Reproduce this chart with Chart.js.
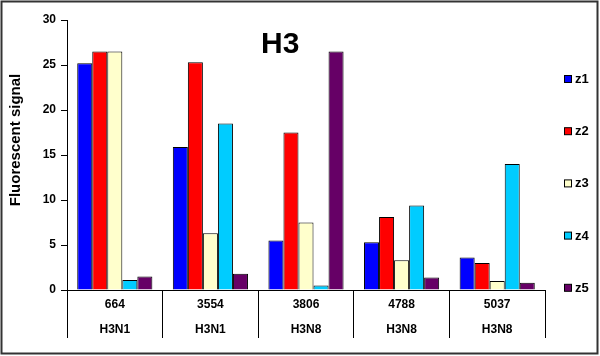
<!DOCTYPE html>
<html>
<head>
<meta charset="utf-8">
<script src="https://cdn.jsdelivr.net/npm/chart.js@4.4.1/dist/chart.umd.min.js"></script>
<style>
  html, body { margin: 0; padding: 0; background: #ffffff; }
  #wrap { width: 600px; height: 356px; position: relative; }
</style>
</head>
<body>
<div id="wrap"><canvas id="c" width="600" height="356"></canvas></div>
<script>
const strains = ['664', '3554', '3806', '4788', '5037'];
const subtypes = ['H3N1', 'H3N1', 'H3N8', 'H3N8', 'H3N8'];
const seriesNames = ['z1', 'z2', 'z3', 'z4', 'z5'];
const z1 = [25.2, 15.9, 5.5, 5.3, 3.6];
const z2 = [26.5, 25.3, 17.5, 8.1, 3.0];
const z3 = [26.5, 6.3, 7.5, 3.3, 1.0];
const z4 = [1.1, 18.5, 0.5, 9.4, 14.0];
const z5 = [1.5, 1.8, 26.5, 1.4, 0.8];
const yTicks = [0, 5, 10, 15, 20, 25, 30];
const chartTitle = 'H3';
const yTitle = 'Fluorescent signal';

const colors = ['#0000FF', '#FF0000', '#FFFFCC', '#00CCFF', '#660066'];
const FONT = '"Liberation Sans", Arial, sans-serif';
const values = [z1, z2, z3, z4, z5];

const datasets = seriesNames.map((n, i) => ({
  label: n,
  data: values[i],
  backgroundColor: colors[i],
  borderColor: '#000000',
  borderWidth: 1,
  categoryPercentage: 0.786,
  barPercentage: 1.0
}));

const decor = {
  id: 'decor',
  afterDraw(chart) {
    const ctx = chart.ctx;
    ctx.save();
    // outer frame
    ctx.strokeStyle = '#333333';
    ctx.lineWidth = 2;
    ctx.strokeRect(1.5, 1.5, 596, 352);
    // title
    ctx.fillStyle = '#000000';
    ctx.font = 'bold 30px ' + FONT;
    ctx.textAlign = 'left';
    ctx.textBaseline = 'alphabetic';
    ctx.fillText(chartTitle, 261, 53);
    // y title
    ctx.save();
    ctx.translate(16, 140);
    ctx.rotate(-Math.PI / 2);
    ctx.font = 'bold 15px ' + FONT;
    ctx.textAlign = 'center';
    ctx.textBaseline = 'middle';
    ctx.fillText(yTitle, 0, 0);
    ctx.restore();
    // legend
    ctx.font = 'bold 13px ' + FONT;
    ctx.textAlign = 'left';
    ctx.textBaseline = 'middle';
    chart.data.datasets.forEach((ds, i) => {
      const cy = 79 + i * 52.2;
      ctx.fillStyle = ds.backgroundColor;
      ctx.fillRect(564.5, cy - 3.5, 7, 7);
      ctx.strokeStyle = '#000000';
      ctx.lineWidth = 1;
      ctx.strokeRect(564.5, cy - 3.5, 7, 7);
      ctx.fillStyle = '#000000';
      ctx.fillText(ds.label, 575, cy + 0.5);
    });
    ctx.restore();
  }
};

new Chart(document.getElementById('c'), {
  type: 'bar',
  data: {
    labels: strains.map((s, i) => [s, subtypes[i]]),
    datasets: datasets
  },
  options: {
    responsive: false,
    animation: false,
    devicePixelRatio: 1,
    layout: { padding: { left: 0, top: 20, right: 55, bottom: 18 } },
    plugins: {
      legend: { display: false },
      title: { display: false },
      tooltip: { enabled: false }
    },
    scales: {
      x: {
        offset: true,
        grid: {
          offset: true,
          display: true,
          drawOnChartArea: false,
          drawTicks: true,
          tickLength: 48,
          color: '#000000',
          lineWidth: 1
        },
        border: { display: true, color: '#000000', width: 1 },
        ticks: {
          color: '#000000',
          font: { family: FONT, size: 12, weight: 'bold', lineHeight: 25 / 12 },
          padding: -45.5,
          maxRotation: 0,
          autoSkip: false
        },
        afterFit(scale) { scale.height = 48; }
      },
      y: {
        min: 0,
        max: 30,
        afterBuildTicks(scale) { scale.ticks = yTicks.map(v => ({ value: v })); },
        grid: {
          display: true,
          drawOnChartArea: false,
          drawTicks: true,
          tickLength: 6,
          color: '#000000'
        },
        border: { display: true, color: '#000000', width: 1 },
        ticks: {
          color: '#000000',
          font: { family: FONT, size: 12, weight: 'bold' },
          padding: 5
        },
        afterFit(scale) { scale.width = 67; }
      }
    }
  },
  plugins: [decor]
});
</script>
</body>
</html>
